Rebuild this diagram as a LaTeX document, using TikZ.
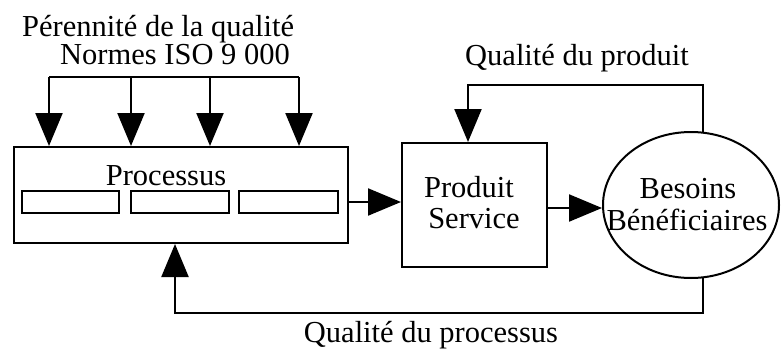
\documentclass[tikz,border=0pt]{standalone}
\usepackage{fontspec}
\setmainfont{Liberation Serif}
\usetikzlibrary{arrows.meta,shapes.geometric}
\begin{document}
\begin{tikzpicture}[x=1pt,y=-1pt,
  ln/.style={line width=2.2pt},
  arr/.style={ln,-{Triangle[length=33pt,width=27pt]}},
  box/.style={draw,line width=2pt,inner sep=0pt},
  lbl/.style={font=\fontsize{30.5}{25}\selectfont,inner sep=0pt,anchor=base}]
\path[use as bounding box] (0,0) rectangle (781,353);
% nodes
\node[box,minimum width=334pt,minimum height=96pt] (proc) at (181,195) {};
\node[box,minimum width=97pt,minimum height=22pt] (s1) at (70.5,202) {};
\node[box,minimum width=98pt,minimum height=22pt] (s2) at (180,202) {};
\node[box,minimum width=99pt,minimum height=22pt] (s3) at (288.5,202) {};
\node[box,minimum width=145pt,minimum height=124pt] (prod) at (474.5,205) {};
\node[draw,ellipse,line width=2pt,minimum width=176pt,minimum height=146pt,inner sep=0pt] (bes) at (691,205) {};
% labels
\node[lbl] (tproc) at (166,185) {Processus};
\node[lbl] (tprod1) at (469,197) {Produit};
\node[lbl] (tprod2) at (474,228) {Service};
\node[lbl] (tbes1) at (688,198) {Besoins};
\node[lbl] (tbes2) at (687,230) {Bénéficiaires};
\node[lbl,anchor=base west] (tper) at (22,37) {\begin{tabular}[t]{@{}l@{}}Pérennité de la qualité\\\hspace*{38pt}Normes ISO 9 000\end{tabular}};
\node[lbl] (tqpr) at (577,65) {Qualité du produit};
\node[lbl] (tqpc) at (431,342) {Qualité du processus};
% top bus
\coordinate (t1) at (49,77);
\coordinate (t2) at (131,77);
\coordinate (t3) at (210,77);
\coordinate (t4) at (299,77);
\draw[ln] (t1) -- (t4);
\foreach \t in {t1,t2,t3,t4}{\draw[arr] (\t) -- (\t |- proc.north);}
% main flow
\draw[arr] ([yshift=-7pt]proc.east) -- ([yshift=-7pt]proc.east -| prod.west);
\draw[arr] ([yshift=-3pt]prod.east) -- ([yshift=-3pt]prod.east -| bes.west);
% feedback loops
\coordinate (qpr) at (468,85);
\draw[arr] (bes.81) |- (qpr) -- (qpr |- prod.north);
\coordinate (qpc) at (175,313);
\draw[arr] (bes.-81) |- (qpc) -- (qpc |- proc.south);
\end{tikzpicture}
\end{document}
